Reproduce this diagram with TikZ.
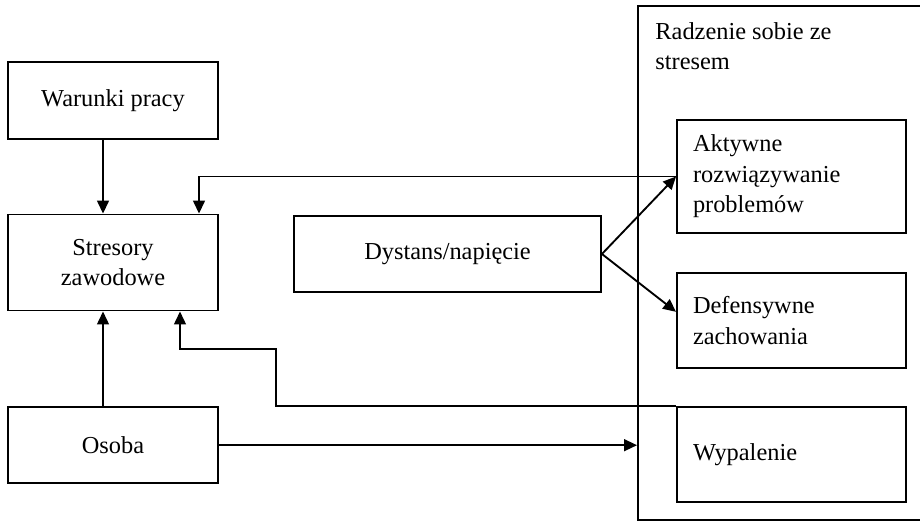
\documentclass[tikz,border=0pt]{standalone}
\usepackage{fontspec}
\setmainfont{Liberation Serif}
\usetikzlibrary{positioning,arrows.meta}
\tikzstyle{arrow} = [thick,-{Triangle[length=5.5pt,width=5pt]}]

\begin{document}
\begin{tikzpicture}[node distance=2.43cm]
			\tikzstyle{block} = [rectangle, draw=black, thick, align=center, minimum width=3.15cm, font=\fontsize{10.4}{13}\selectfont];
			\tikzstyle{inner} = [block, minimum width=3.435cm, text width=2.955cm, inner xsep=0.24cm, align=left];
			\useasboundingbox (0,0) rectangle (13.8,-7.83);
			\node (warunki) [block, minimum height=1.155cm] at (1.695,-1.508) {Warunki pracy};
			\node (stresory) [block, minimum height=1.44cm, below of=warunki] {Stresory\\zawodowe};
			\node (osoba) [block, minimum height=1.14cm, below of=stresory, node distance=2.74cm] {Osoba};
			\node (dystans) [block, minimum width=4.605cm, minimum height=1.14cm] at (6.7125,-3.81) {Dystans/napięcie};
			\node (coping) [draw=black, thick, minimum width=4.38cm, minimum height=7.71cm] at (11.76,-3.945) {};
			\node (radzenie) [anchor=north west, align=left, inner sep=0pt, font=\fontsize{10.4}{13}\selectfont] at (9.825,-0.33) {Radzenie sobie ze\\stresem};
			\node (aktywne) [inner, minimum height=1.695cm] at (11.8725,-2.6475) {Aktywne\\rozwiązywanie\\problemów};
			\node (defensywne) [inner, minimum height=1.425cm, below of=aktywne, node distance=2.16cm] {Defensywne\\zachowania};
			\node (wypalenie) [inner, minimum height=1.425cm, below of=defensywne, node distance=2.01cm] {Wypalenie};
			\coordinate (knee) at (4.14,-5.235);
			\draw [arrow] ([xshift=-0.15cm]warunki.south) -- ([xshift=-0.15cm]stresory.north);
			\draw [arrow] (aktywne.west) -| ([xshift=1.29cm]stresory.north);
			\draw [arrow] (dystans.east) -- (aktywne.west);
			\draw [arrow] (dystans.east) -- ([yshift=0.13cm]defensywne.west);
			\draw [arrow] ([xshift=-0.15cm]osoba.north) -- ([xshift=-0.15cm]stresory.south);
			\draw [arrow] (wypalenie.north west) -| (knee) -| ([xshift=1.005cm]stresory.south);
			\draw [arrow] (osoba.east) -- (osoba.east -| coping.west);
		\end{tikzpicture}
\end{document}
